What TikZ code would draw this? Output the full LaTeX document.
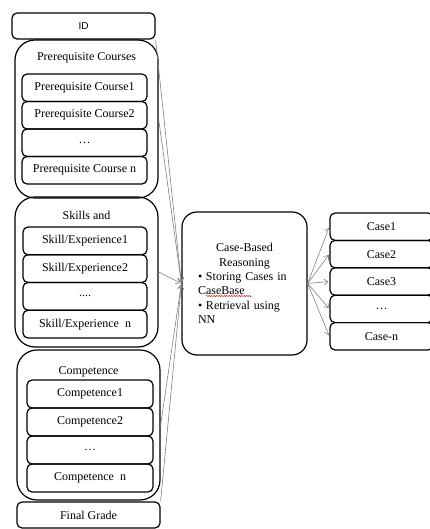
\documentclass[tikz,border=0pt]{standalone}
\usepackage{fontspec}
\setmainfont{Liberation Serif}
\newfontfamily\idfont{Liberation Sans}
\usetikzlibrary{arrows.meta,decorations.pathmorphing}

\begin{document}
\begin{tikzpicture}[x=1pt,y=-1pt,>={Straight Barb[length=4pt,width=6pt]},
  every node/.style={font=\fontsize{12}{14.4}\selectfont},
  box/.style={draw,line width=1.2pt,rounded corners=5pt,inner sep=0pt},
  group/.style={box,rounded corners=20pt},
  link/.style={->,gray,line width=0.6pt,shorten >=1pt}]
  \clip (0,0) rectangle (430,529);
  \node[box,minimum width=143pt,minimum height=26pt,font=\idfont\fontsize{10}{12}\selectfont] (id) at (83.5,26) {ID};
  % prerequisite courses
  \node[group,minimum width=143pt,minimum height=158pt] (pre) at (86.5,119) {};
  \node (pret) at (86.5,58) {Prerequisite Courses};
  \node[box,minimum width=125pt,minimum height=27.5pt] (pc1) at (84.5,87.75) {Prerequisite Course1};
  \node[box,minimum width=125pt,minimum height=27.5pt] (pc2) at (84.5,115.25) {Prerequisite Course2};
  \node[box,minimum width=125pt,minimum height=27.5pt] (pc3) at (84.5,142.75) {\dots};
  \node[box,minimum width=125pt,minimum height=27.5pt] (pcn) at (84.5,170.25) {Prerequisite Course n};
  % skills
  \node[group,minimum width=143pt,minimum height=150pt] (skl) at (86.5,272) {};
  \node (sklt) at (86.5,215) {Skills and};
  \node[box,minimum width=124pt,minimum height=27.75pt] (sk1) at (85,240.875) {Skill/Experience1};
  \node[box,minimum width=124pt,minimum height=27.75pt] (sk2) at (85,268.625) {Skill/Experience2};
  \node[box,minimum width=124pt,minimum height=27.75pt] (sk3) at (85,296.375) {....};
  \node[box,minimum width=124pt,minimum height=27.75pt] (skn) at (85,324.125) {Skill/Experience\enspace n};
  % competence
  \node[group,minimum width=143pt,minimum height=150pt] (cmp) at (88.5,425) {};
  \node (cmpt) at (88.5,372) {Competence};
  \node[box,minimum width=126pt,minimum height=28pt] (cm1) at (90,394) {Competence1};
  \node[box,minimum width=126pt,minimum height=28pt] (cm2) at (90,422) {Competence2};
  \node[box,minimum width=126pt,minimum height=28pt] (cm3) at (90,450) {\dots};
  \node[box,minimum width=126pt,minimum height=28pt] (cmn) at (90,478) {Competence\enspace n};
  \node[box,minimum width=143pt,minimum height=26pt] (fg) at (88.5,515) {Final Grade};
  % case-based reasoning
  \node[box,rounded corners=15pt,minimum width=125pt,minimum height=143pt,text width=93pt,align=left] (cbr) at (244.5,283.5)
    {\centering Case-Based\\Reasoning\par
     \raggedright\hangindent=8pt\hangafter=1\makebox[8pt][l]{\textbullet}Storing Cases in\\CaseBase\par
     \hangindent=8pt\hangafter=1\makebox[8pt][l]{\textbullet}Retrieval using\\NN\par};
  \draw[red,line width=0.4pt,decorate,decoration={snake,amplitude=0.7pt,segment length=2.5pt}] (206,296) -- (252,296);
  % cases
  \node[box,minimum width=103pt,minimum height=27.4pt] (c1) at (381.5,226.7) {Case1};
  \node[box,minimum width=103pt,minimum height=27.4pt] (c2) at (381.5,254.1) {Case2};
  \node[box,minimum width=103pt,minimum height=27.4pt] (c3) at (381.5,281.5) {Case3};
  \node[box,minimum width=103pt,minimum height=27.4pt] (c4) at (381.5,308.9) {\dots};
  \node[box,minimum width=103pt,minimum height=27.4pt] (cn) at (381.5,336.3) {Case-n};
  \draw[link] (id.south east) -- (cbr.west);
  \draw[link] (pre.east) -- (cbr.west);
  \draw[link] (skl.east) -- (cbr.west);
  \draw[link] (cmp.east) -- (cbr.west);
  \draw[link] (fg.north east) -- (cbr.west);
  \draw[link] (cbr.east) -- (c1.west);
  \draw[link] (cbr.east) -- (c2.west);
  \draw[link] (cbr.east) -- (c3.west);
  \draw[link] (cbr.east) -- (c4.west);
  \draw[link] (cbr.east) -- (cn.west);
\end{tikzpicture}
\end{document}
